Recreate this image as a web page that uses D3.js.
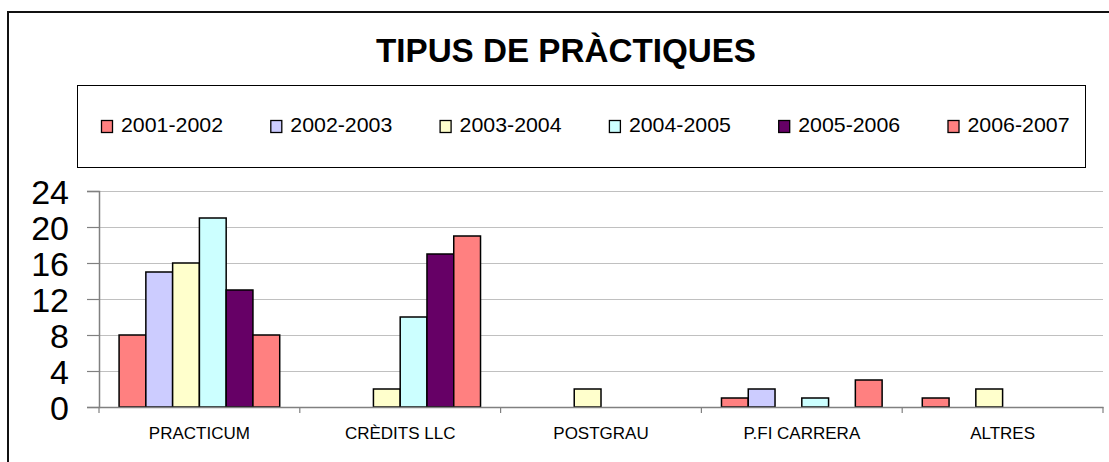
<!DOCTYPE html>
<html>
<head>
<meta charset="utf-8">
<script src="https://cdn.jsdelivr.net/npm/d3@7"></script>
<style>
    body { margin:0; background:#fff; }
    text { font-family:'Liberation Sans', Arial, sans-serif; }
</style>
</head>
<body>
<svg id="chart" width="1109" height="462"></svg>
<script>
(function() {
    'use strict';

    var categories = ['PRACTICUM','CRÈDITS LLC','POSTGRAU','P.FI CARRERA','ALTRES'];
    var years = ['2001-2002','2002-2003','2003-2004','2004-2005','2005-2006','2006-2007'];
    var colors = ['#ff8080','#ccccff','#ffffcc','#ccffff','#660066','#ff8080'];

    // one array per course year, values in category order
    var y2001 = [8, 0, 0, 1, 1];
    var y2002 = [15, 0, 0, 2, 0];
    var y2003 = [16, 2, 2, 0, 2];
    var y2004 = [21, 10, 0, 1, 0];
    var y2005 = [13, 17, 0, 0, 0];
    var y2006 = [8, 19, 0, 3, 0];
    var series = [y2001, y2002, y2003, y2004, y2005, y2006];

    var yTicks = [0, 4, 8, 12, 16, 20, 24];

    var svg = d3.select('#chart');

    /******************************************************************
        frame, title, legend
     ******************************************************************/
    svg.append('rect')
        .attr('x', 8).attr('y', 12)
        .attr('width', 1120).attr('height', 470)
        .attr('fill', 'none')
        .attr('stroke', '#111')
        .attr('stroke-width', 2);

    svg.append('text')
        .attr('x', 566).attr('y', 62)
        .attr('text-anchor', 'middle')
        .attr('font-size', 34)
        .attr('font-weight', 'bold')
        .attr('textLength', 380)
        .attr('lengthAdjust', 'spacingAndGlyphs')
        .text('TIPUS DE PRÀCTIQUES');

    var legend = svg.append('g').attr('class', 'legend');

    legend.append('rect')
        .attr('x', 77.5).attr('y', 85.5)
        .attr('width', 1008).attr('height', 82)
        .attr('fill', '#fff')
        .attr('stroke', '#000')
        .attr('stroke-width', 1);

    var item = legend.selectAll('.item')
        .data(years).enter()
            .append('g')
                .attr('class', 'item')
                .attr('transform', function(d, i) {
                    return 'translate(' + [101 + i * 169.3, 126] + ')';
                });

    item.append('rect')
        .attr('x', 0.5).attr('y', -5.5)
        .attr('width', 11).attr('height', 12)
        .attr('fill', function(d, i) { return colors[i]; })
        .attr('stroke', '#000')
        .attr('stroke-width', 1.3);

    item.append('text')
        .attr('x', 20).attr('y', 6)
        .attr('font-size', 21)
        .attr('textLength', 102)
        .attr('lengthAdjust', 'spacingAndGlyphs')
        .text(function(d) { return d; });

    /******************************************************************
        plot
     ******************************************************************/
    var left = 99, right = 1103, top = 191, bottom = 407;

    var x = d3.scaleBand()
        .domain(categories)
        .range([left, right]);

    // 6 bars fill the middle 80% of every category slot
    var xi = d3.scaleBand()
        .domain(years)
        .range([x.bandwidth() * 0.1, x.bandwidth() * 0.9]);

    var y = d3.scaleLinear()
        .domain([0, 24])
        .range([bottom, top]);

    svg.append('g')
        .attr('class', 'grid')
        .selectAll('line')
        .data(yTicks.filter(function(d) { return d > 0; })).enter()
            .append('line')
                .attr('x1', left).attr('x2', right)
                .attr('y1', function(d) { return y(d) + 0.5; })
                .attr('y2', function(d) { return y(d) + 0.5; })
                .attr('stroke', '#c0c0c0')
                .attr('stroke-width', 1.2);

    var yAxis = svg.append('g')
        .attr('transform', 'translate(' + left + ',0)')
        .call(d3.axisLeft(y).tickValues(yTicks).tickSize(12).tickPadding(18));

    yAxis.select('.domain').attr('stroke', '#808080').attr('stroke-width', 1.5);
    yAxis.selectAll('.tick line').attr('stroke', '#808080').attr('stroke-width', 1.2);
    yAxis.selectAll('.tick text')
        .attr('font-family', "'Liberation Sans', Arial, sans-serif")
        .attr('font-size', 34)
        .attr('fill', '#000')
        .attr('dy', '0.36em');

    var groups = svg.append('g')
        .attr('class', 'bars')
        .selectAll('g')
        .data(series).enter()
            .append('g')
                .attr('fill', function(d, i) { return colors[i]; });

    groups.selectAll('rect')
        .data(function(d, i) {
            return d.map(function(v, j) {
                return { year: years[i], cat: categories[j], value: v };
            }).filter(function(o) { return o.value > 0; });
        }).enter()
            .append('rect')
                .attr('x', function(d) { return x(d.cat) + xi(d.year); })
                .attr('width', xi.bandwidth())
                .attr('y', function(d) { return y(d.value); })
                .attr('height', function(d) { return bottom - y(d.value); })
                .attr('stroke', '#000')
                .attr('stroke-width', 1.5);

    var xAxis = svg.append('g')
        .attr('transform', 'translate(0,' + bottom + ')')
        .call(d3.axisBottom(x).tickSize(0).tickPadding(20));

    xAxis.select('.domain').attr('stroke', '#808080').attr('stroke-width', 1.5);
    xAxis.selectAll('.tick text')
        .attr('font-family', "'Liberation Sans', Arial, sans-serif")
        .attr('font-size', 17)
        .attr('fill', '#000');

    // category separators
    xAxis.selectAll('.sep')
        .data(d3.range(categories.length + 1)).enter()
            .append('line')
                .attr('class', 'sep')
                .attr('x1', function(d) { return left + d * x.step(); })
                .attr('x2', function(d) { return left + d * x.step(); })
                .attr('y1', 0).attr('y2', 6)
                .attr('stroke', '#808080')
                .attr('stroke-width', 1.2);
})();
</script>
</body>
</html>
